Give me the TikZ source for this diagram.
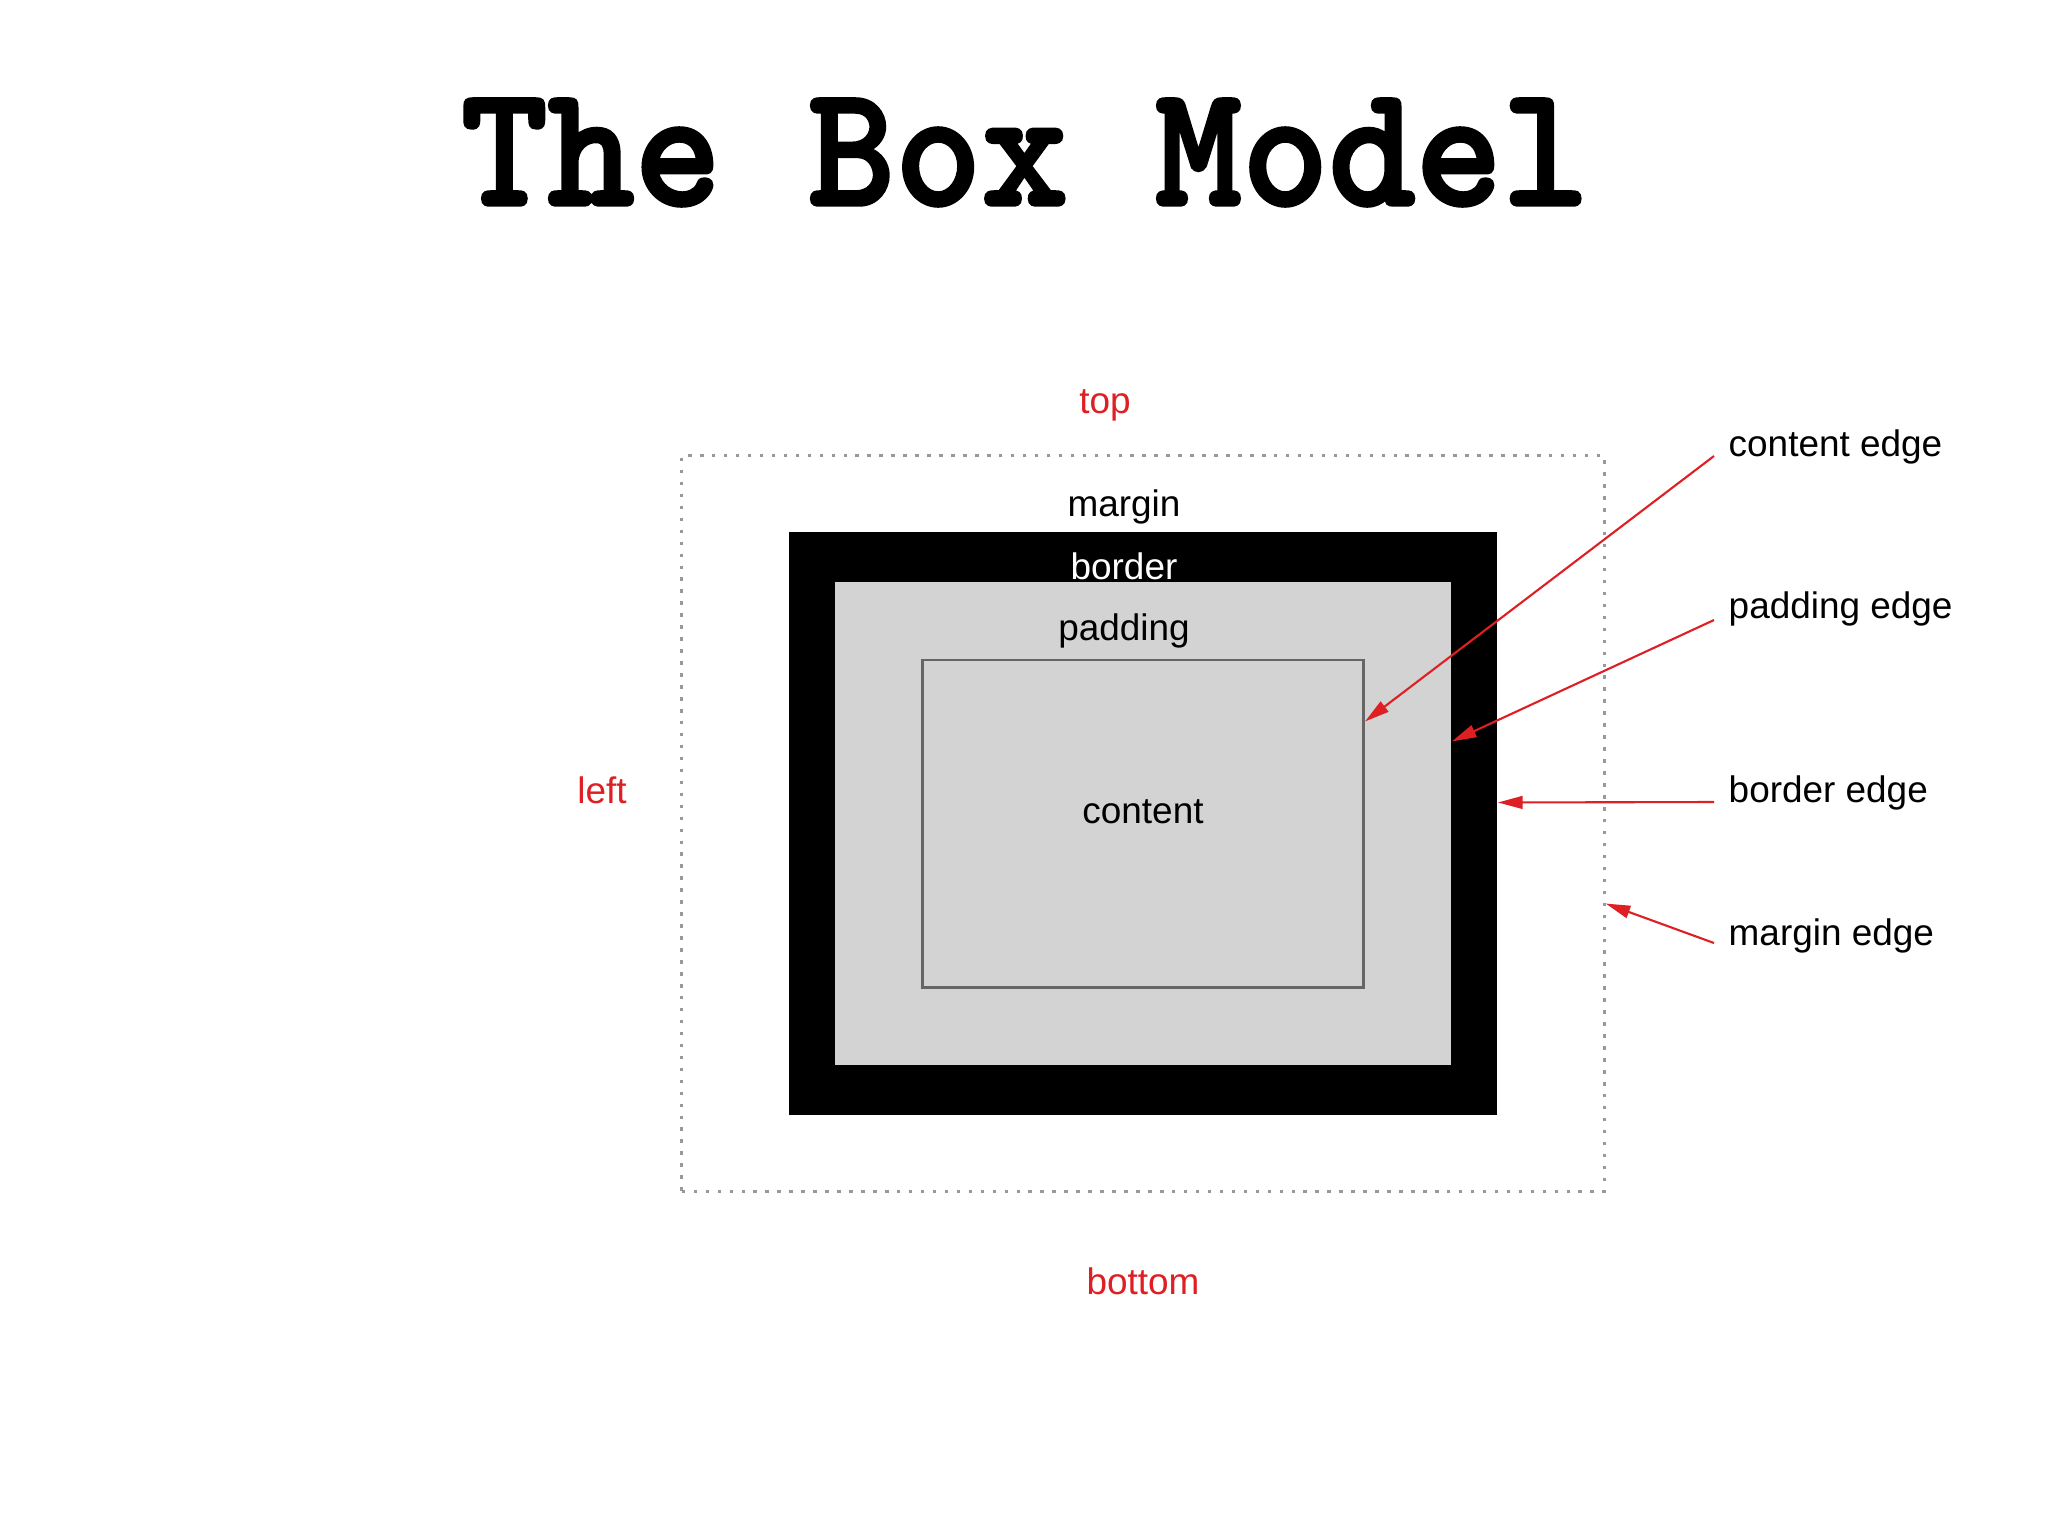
\documentclass[tikz,border=0pt]{standalone}
\usepackage{fontspec}
\setmainfont{Liberation Sans}
\newfontfamily\typefont{lmmonolt10-bold.otf}[FakeBold=2]
\usetikzlibrary{arrows.meta,calc,positioning}
\definecolor{labelred}{RGB}{222,32,36}
\definecolor{padgray}{RGB}{211,211,211}

\begin{document}
\begin{tikzpicture}[x=0.01cm,y=-0.01cm,
  every node/.style={font=\fontsize{10.5}{12}\selectfont},
  side/.style={text=labelred},
  edgelabel/.style={anchor=west,inner xsep=0.14cm,inner ysep=0pt},
  pointer/.style={labelred,line width=0.6pt,-{Triangle[length=7pt,width=3.6pt]}}]
\useasboundingbox (0,0) rectangle (2048,1536);
\fill[white] (0,0) rectangle (2048,1536);

\node[font=\typefont\fontsize{47}{52}\selectfont, yscale=1.05, anchor=base] (title) at (1025,205) {The Box Model};

% the nested boxes
\node[draw=gray!80, line width=0.8pt, dash pattern=on 1pt off 2.4pt, minimum width=9.22cm, minimum height=7.35cm, inner sep=0pt] (margin) at (1143,823.5) {};
\node[fill=black, minimum width=7.08cm, minimum height=5.82cm, inner sep=0pt] (border) at (margin) {};
\node[fill=padgray, minimum width=6.16cm, minimum height=4.83cm, inner sep=0pt] (padding) at (margin) {};
\node[draw=black!60, fill=padgray, line width=0.8pt, minimum width=4.41cm, minimum height=3.27cm, inner sep=0pt] (content) at (margin) {};

\node (margintxt) at (1124,507) {margin};
\node[text=white] (bordertxt) at (1124,566) {border};
\node (paddingtxt) at (1124,631) {padding};
\node (contenttxt) at (1143,812) {content};

\node[side] (toptxt) at (1105,405) {top};
\node[side] (lefttxt) at (602,790) {left};
\node[side] (bottomtxt) at (1143,1281) {bottom};

% edge labels and pointers
\node[edgelabel] (cedge) at (1714,447) {content edge};
\node[edgelabel] (pedge) at (1714,609) {padding edge};
\node[edgelabel] (bedge) at (1714,793) {border edge};
\node[edgelabel] (medge) at (1714,936) {margin edge};

\draw[pointer] ([yshift=-0.09cm]cedge.west) -- ([yshift=1.02cm]content.east);
\draw[pointer] ([yshift=-0.11cm]pedge.west) -- ([yshift=0.82cm]padding.east);
\draw[pointer] ([yshift=-0.09cm]bedge.west) -- ([yshift=0.21cm]border.east);
\draw[pointer] ([yshift=-0.07cm]medge.west) -- ([yshift=-0.8cm]margin.east);
\end{tikzpicture}
\end{document}
